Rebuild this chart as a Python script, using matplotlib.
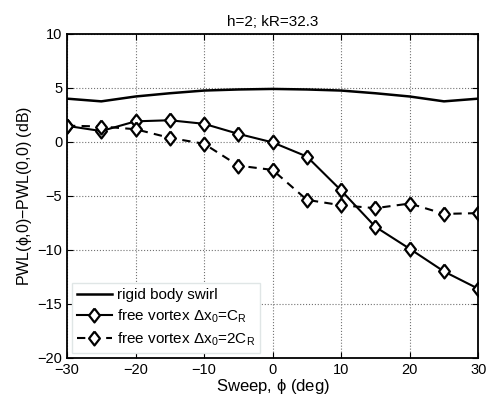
import numpy as np
import matplotlib
matplotlib.use("Agg")
import matplotlib.pyplot as plt

sweep = [-30, -25, -20, -15, -10, -5, 0, 5, 10, 15, 20, 25, 30]
rigid = [4.0, 3.75, 4.2, 4.5, 4.75, 4.85, 4.9, 4.85, 4.75, 4.5, 4.2, 3.75, 4.0]
vortex_1 = [1.48, 1.0, 1.9, 2.0, 1.67, 0.74, -0.05, -1.36, -4.5, -7.87, -9.9, -12.0, -13.6]
vortex_2 = [1.5, 1.42, 1.17, 0.37, -0.18, -2.2, -2.6, -5.37, -5.87, -6.14, -5.71, -6.67, -6.6]

xticks = [-30, -20, -10, 0, 10, 20, 30]
yticks = [-20, -15, -10, -5, 0, 5, 10]

plt.rcParams['font.family'] = ['Liberation Sans', 'DejaVu Sans']
plt.rcParams['mathtext.fontset'] = 'custom'
plt.rcParams['mathtext.rm'] = 'Liberation Sans'
plt.rcParams['mathtext.it'] = 'Liberation Sans'

# matlab-ish diamond, a bit taller than wide
diamond = [(0, 1), (0.78, 0), (0, -1), (-0.78, 0), (0, 1)]

fig = plt.figure(figsize=(4.89, 4.03), dpi=100)
ax = fig.add_axes([0.137, 0.112, 0.841, 0.804])

ax.plot(sweep, rigid, color='k', lw=1.8, label='rigid body swirl')
ax.plot(sweep, vortex_1, color='k', lw=1.5, marker=diamond, ms=10, mfc='w', mec='k', mew=1.6,
        label=r'free vortex $\Delta$x$_{\mathregular{0}}$=C$_{\mathregular{R}}$')
ax.plot(sweep, vortex_2, color='k', lw=1.5, ls=(0, (4, 3)), marker=diamond, ms=10, mfc='w', mec='k', mew=1.6,
        label=r'free vortex $\Delta$x$_{\mathregular{0}}$=2C$_{\mathregular{R}}$')

ax.set_xlim(-30, 30)
ax.set_ylim(-20, 10)
ax.set_xticks(xticks)
ax.set_yticks(yticks)
ax.grid(True, ls=':', color='0.45', lw=0.8)
ax.tick_params(direction='in', top=True, right=True, labelsize=10.5, length=4)
for s in ax.spines.values():
    s.set_linewidth(1.3)

ax.set_xlabel(r'Sweep, $\phi$ (deg)', fontsize=12, labelpad=0)
ax.set_ylabel(r'PWL($\phi$,0)$-$PWL(0,0) (dB)', fontsize=11.5, labelpad=2)
ax.set_title('h=2; kR=32.3', fontsize=11)

leg = ax.legend(loc='lower left', fontsize=11, fancybox=False, framealpha=1,
                handlelength=2.3, borderaxespad=0.3, labelspacing=0.35, handletextpad=0.3,
                borderpad=0.35)
leg.get_frame().set_edgecolor('#e0e6e6')

fig.savefig('out.png', dpi=100)
